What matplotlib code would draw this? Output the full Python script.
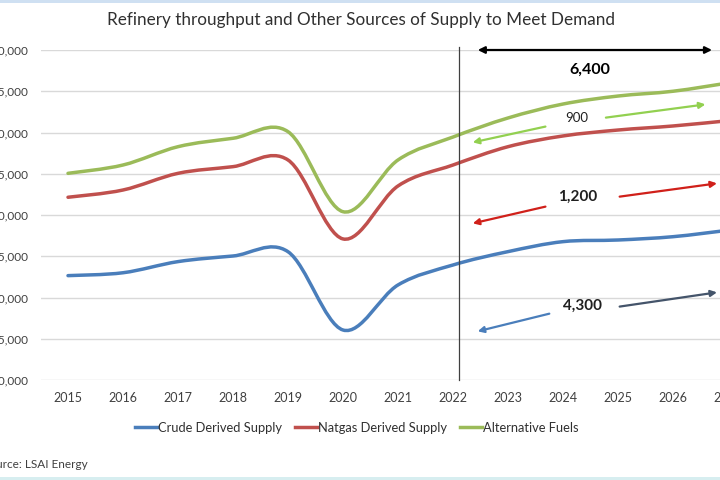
import matplotlib.pyplot as plt
from matplotlib.path import Path
from matplotlib.patches import PathPatch, Rectangle
from matplotlib.lines import Line2D
from matplotlib.ticker import FuncFormatter

plt.rcParams['font.family'] = ['Lato', 'DejaVu Sans']

years = [2015, 2016, 2017, 2018, 2019, 2020, 2021, 2022, 2023, 2024, 2025, 2026, 2027]
crude = [82650, 83000, 84350, 85030, 85550, 76060, 81520, 83940, 85560, 86770, 86970, 87370, 88150]
natgas = [92150, 93030, 95050, 95860, 96670, 87100, 93520, 96060, 98280, 99580, 100300, 100790, 101430]
altfuel = [95050, 96060, 98280, 99300, 100100, 90400, 96670, 99450, 101760, 103450, 104420, 105000, 106000]

names = ['Crude Derived Supply', 'Natgas Derived Supply', 'Alternative Fuels']
colors = ['#4a7ebb', '#c0504d', '#9bbb59']

# increments 2022 -> 2027 shown as annotations
labels = ['4,300', '1,200', '900']
total_label = '6,400'


def smooth_path(xs, ys):
    # bezier through every point, like an excel "smoothed line"
    pts = list(zip(xs, ys))
    verts = [pts[0]]
    codes = [Path.MOVETO]
    n = len(pts)
    for i in range(n - 1):
        p0 = pts[i - 1] if i > 0 else pts[i]
        p1 = pts[i]
        p2 = pts[i + 1]
        p3 = pts[i + 2] if i + 2 < n else pts[i + 1]
        c1 = (p1[0] + (p2[0] - p0[0]) / 6, p1[1] + (p2[1] - p0[1]) / 6)
        c2 = (p2[0] - (p3[0] - p1[0]) / 6, p2[1] - (p3[1] - p1[1]) / 6)
        verts += [c1, c2, p2]
        codes += [Path.CURVE4] * 3
    return Path(verts, codes)


fig = plt.figure(figsize=(7.2, 4.8), dpi=100)
ax = fig.add_axes([40.5 / 720, 100 / 480, 715 / 720, 330 / 480])

for s, c in zip([crude, natgas, altfuel], colors):
    ax.add_patch(PathPatch(smooth_path(years, s), facecolor='none', edgecolor=c,
                           lw=2.5, capstyle='round', clip_on=False, zorder=3))

ax.set_xlim(2014.5, 2027.5)
ax.set_ylim(70000, 110000)
ax.set_xticks(years)
ax.set_yticks(range(70000, 110001, 5000))
ax.yaxis.set_major_formatter(FuncFormatter(lambda v, p: f'{int(v):,}'))
ax.tick_params(length=0, colors='#404040')
ax.tick_params(axis='x', pad=9, labelsize=9)
ax.tick_params(axis='y', pad=9, labelsize=8.5)
ax.grid(axis='y', color='#d9d9d9', lw=1)
ax.set_axisbelow(True)
for sp in ax.spines.values():
    sp.set_visible(False)

# 2022 divider
ax.axvline(2022.11, color='#404040', lw=0.9, ymax=1.01, clip_on=False, zorder=4)

# total arrow
ax.annotate('', xy=(2022.4, 110000), xytext=(2026.76, 110000),
            arrowprops=dict(arrowstyle='<|-|>', color='black', lw=1.6, mutation_scale=10),
            annotation_clip=False)
ax.text(2024.49, 107600, total_label, ha='center', va='center', fontsize=11.5, fontweight='bold')


def two_arrows(lab, pos, left, right, cl, cr, fs, bold):
    ax.text(pos[0], pos[1], lab, ha='center', va='center', fontsize=fs,
            fontweight='bold' if bold else 'normal', color='#202020')
    ax.annotate('', xy=left[1], xytext=left[0],
                arrowprops=dict(arrowstyle='-|>', color=cl, lw=1.6, mutation_scale=9),
                annotation_clip=False)
    ax.annotate('', xy=right[1], xytext=right[0],
                arrowprops=dict(arrowstyle='-|>', color=cr, lw=1.6, mutation_scale=9),
                annotation_clip=False)


two_arrows(labels[2], (2024.25, 101760),
           ((2023.73, 100790), (2022.31, 98730)),
           ((2024.73, 101760), (2026.64, 103450)), '#92d050', '#92d050', 9.5, False)
two_arrows(labels[1], (2024.27, 92180),
           ((2023.73, 91090), (2022.31, 88910)),
           ((2024.98, 92180), (2026.85, 93880)), '#d0201a', '#d0201a', 11, True)
two_arrows(labels[0], (2024.35, 78970),
           ((2023.8, 78120), (2022.4, 75820)),
           ((2024.98, 78850), (2026.85, 80670)), '#4a7ebb', '#44546a', 11, True)

fig.text(361 / 720, 1 - 20 / 480, 'Refinery throughput and Other Sources of Supply to Meet Demand',
         ha='center', va='center', fontsize=12.3, color='#303030')

handles = [Line2D([], [], color=c, lw=2.5) for c in colors]
fig.legend(handles, names, loc='center', bbox_to_anchor=(357 / 720, 1 - 428 / 480), ncol=3,
           frameon=False, fontsize=9.3, handlelength=1.7, handletextpad=0.1, columnspacing=1.0,
           labelcolor='#303030')

fig.text(88 / 720, 1 - 465 / 480, 'Source: LSAI Energy', ha='right', va='center',
         fontsize=8.5, color='#404040')

# screenshot edges
fig.add_artist(Rectangle((0, 1 - 3 / 480), 1, 3 / 480, transform=fig.transFigure,
                         color='#cfe0f2', lw=0))
fig.add_artist(Rectangle((0, 0), 1, 3 / 480, transform=fig.transFigure,
                         color='#d7eef0', lw=0))

fig.savefig('out.png', dpi=100)
